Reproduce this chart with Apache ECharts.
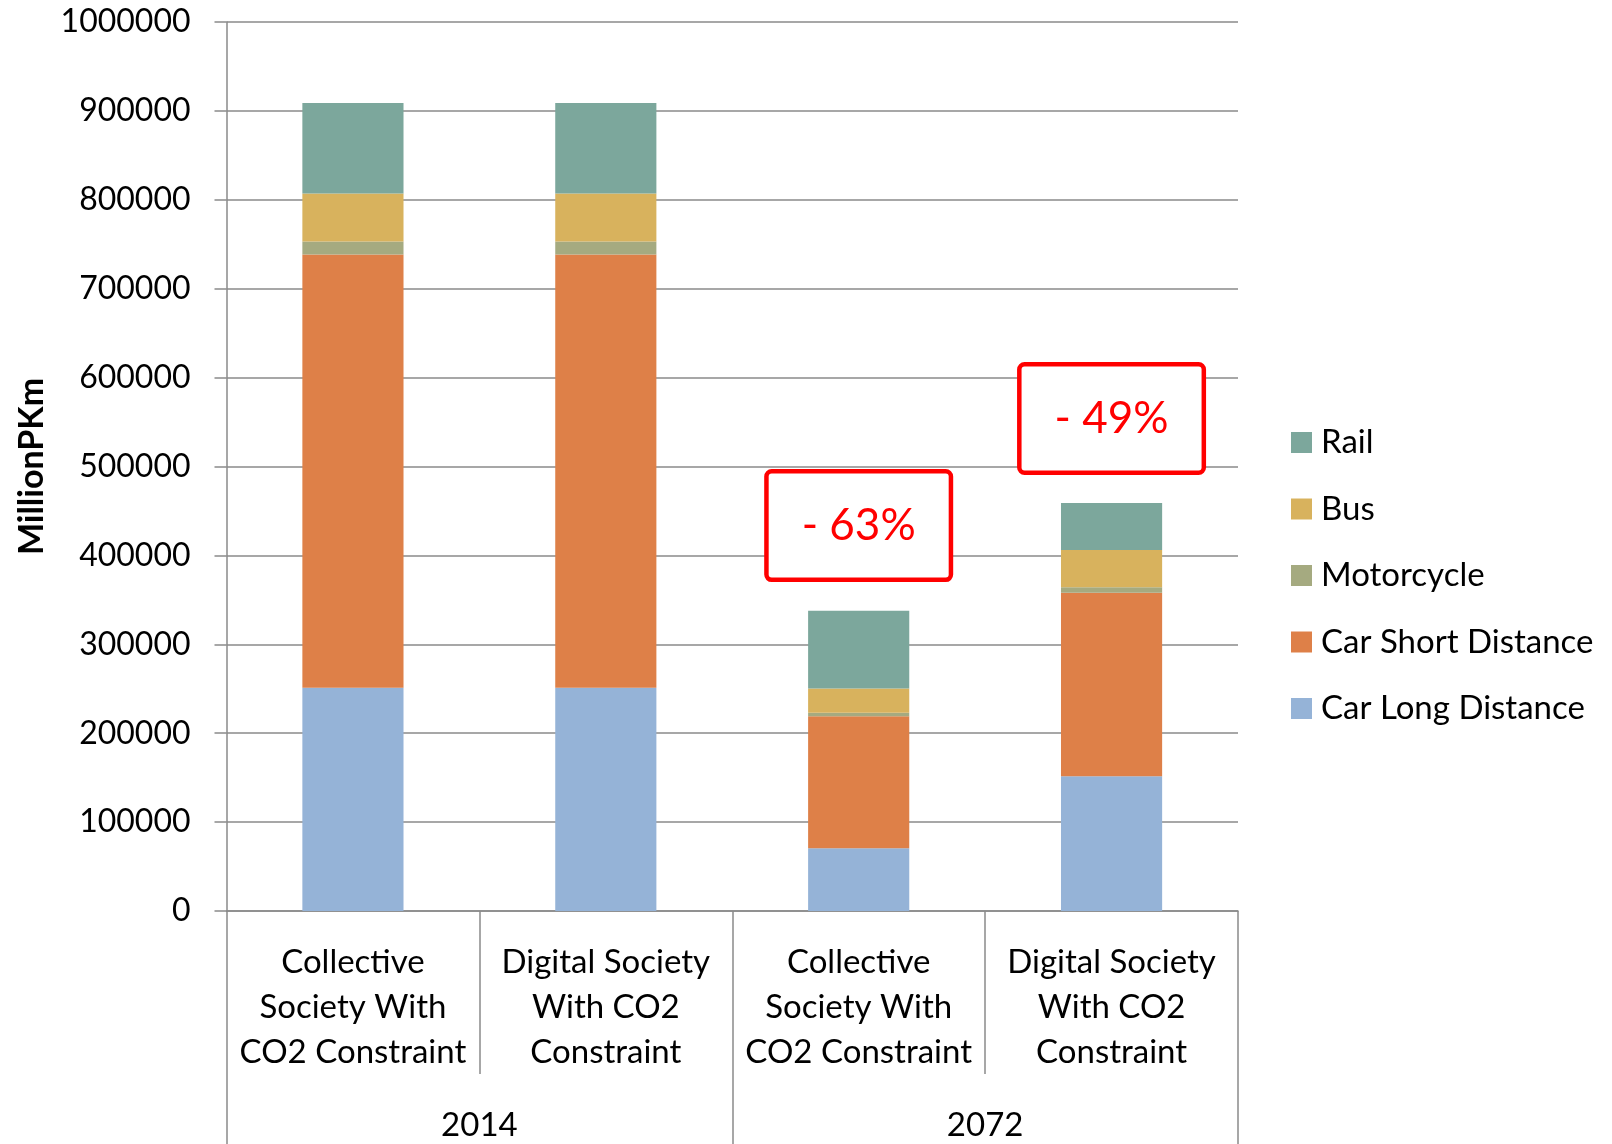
<!DOCTYPE html>
<html>
<head>
<meta charset="utf-8">
<script src="https://cdn.jsdelivr.net/npm/echarts@6/dist/echarts.min.js"></script>
<style>
html,body{margin:0;padding:0;background:#fff;}
#chart{width:1612px;height:1144px;}
</style>
</head>
<body>
<div id="chart"></div>
<script>
const categories = [
  "Collective\nSociety With\nCO2 Constraint",
  "Digital Society\nWith CO2\nConstraint",
  "Collective\nSociety With\nCO2 Constraint",
  "Digital Society\nWith CO2\nConstraint"
];
const years = ["2014", "2072"];
const carLong = [251000, 251000, 70500, 151500];
const carShort = [487500, 487500, 148500, 206500];
const motorcycle = [14700, 14700, 4000, 6100];
const bus = [54000, 54000, 27400, 41900];
const rail = [101600, 101600, 87400, 52900];
const seriesNames = ["Car Long Distance", "Car Short Distance", "Motorcycle", "Bus", "Rail"];
const seriesColors = ["#95B3D7", "#DE8048", "#A5AA80", "#D8B25D", "#7CA79C"];
const annotations = [
  { text: "- 63%", category: 2, value: 433500 },
  { text: "- 49%", category: 3, value: 554000 }
];
const yTicks = { min: 0, max: 1000000, interval: 100000 };

const FONT = "Lato";
const GRAY = "#8a8a8a";
const seriesData = [carLong, carShort, motorcycle, bus, rail];

const series = seriesNames.map((name, i) => ({
  name: name,
  type: "bar",
  stack: "total",
  barWidth: "40%",
  data: seriesData[i],
  itemStyle: { color: seriesColors[i] },
  emphasis: { disabled: true },
  z: 2
}));

series[4].markPoint = {
  symbol: "rect",
  symbolSize: 1,
  itemStyle: { color: "rgba(0,0,0,0)" },
  silent: true,
  label: {
    show: true,
    position: "inside",
    formatter: p => p.name,
    color: "#FF0000",
    fontFamily: FONT,
    fontSize: 44,
    width: 180,
    height: 104,
    align: "center",
    verticalAlign: "middle",
    lineHeight: 104,
    backgroundColor: "#fff",
    borderColor: "#FF0000",
    borderWidth: 4.5,
    borderRadius: 3
  },
  data: annotations.map(a => ({ name: a.text, coord: [a.category, a.value] }))
};

const chart = echarts.init(document.getElementById("chart"), null, { renderer: "canvas" });
chart.setOption({
  animation: false,
  backgroundColor: "#fff",
  textStyle: { fontFamily: FONT },
  grid: { left: 226.5, right: 374, top: 22, bottom: 233, containLabel: false, outerBoundsMode: "none" },
  legend: {
    orient: "vertical",
    left: 1286,
    top: 421,
    padding: 5,
    itemWidth: 21,
    itemHeight: 21,
    itemGap: 33.5,
    icon: "rect",
    data: seriesNames.slice().reverse(),
    textStyle: { fontFamily: FONT, fontSize: 33, color: "#000", lineHeight: 33, padding: [0, 0, 0, 4] },
    selectedMode: false
  },
  xAxis: [
    {
      type: "category",
      data: categories,
      position: "bottom",
      axisLine: { show: true, lineStyle: { color: GRAY, width: 1.5 } },
      axisTick: { show: true, interval: 0, length: 163, lineStyle: { color: GRAY, width: 1.5 } },
      axisLabel: {
        interval: 0,
        margin: 29,
        fontFamily: FONT,
        fontSize: 33,
        lineHeight: 45,
        color: "#000"
      },
      splitLine: { show: false }
    },
    {
      type: "category",
      data: years,
      position: "bottom",
      axisLine: { show: false },
      axisTick: { show: true, interval: 0, length: 240, lineStyle: { color: GRAY, width: 1.5 } },
      axisLabel: {
        interval: 0,
        margin: 198,
        fontFamily: FONT,
        fontSize: 33,
        lineHeight: 33,
        color: "#000"
      },
      splitLine: { show: false }
    }
  ],
  yAxis: {
    type: "value",
    min: yTicks.min,
    max: yTicks.max,
    interval: yTicks.interval,
    name: "MillionPKm",
    nameLocation: "middle",
    nameRotate: 90,
    nameGap: 177,
    nameTextStyle: { fontFamily: FONT, fontSize: 34, fontWeight: "bold", color: "#000" },
    axisLine: { show: true, lineStyle: { color: GRAY, width: 1.5 } },
    axisTick: { show: true, length: 12, lineStyle: { color: GRAY, width: 1.5 } },
    axisLabel: { margin: 36, fontFamily: FONT, fontSize: 32, color: "#000", formatter: v => String(v) },
    splitLine: { show: true, lineStyle: { color: GRAY, width: 1.5 } }
  },
  series: series
});
</script>
</body>
</html>
